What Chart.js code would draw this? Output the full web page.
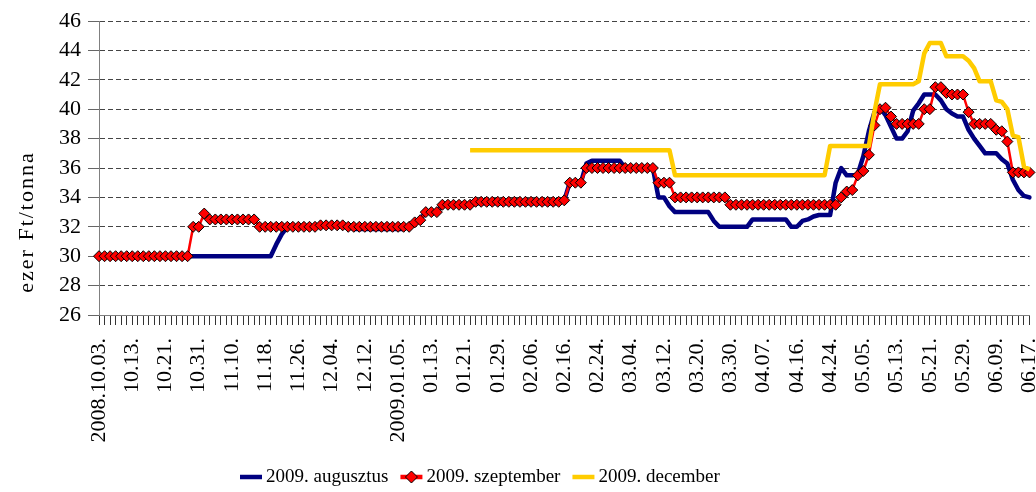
<!DOCTYPE html>
<html>
<head>
<meta charset="utf-8">
<script src="https://cdn.jsdelivr.net/npm/chart.js@4.4.1/dist/chart.umd.min.js"></script>
<style>
html,body{margin:0;padding:0;background:#fff;}
canvas{display:block;}
</style>
</head>
<body>
<canvas id="c" width="1036" height="492"></canvas>
<script>
// Tick labels: one every 6th trading day
const tickLabels = ['2008.10.03.', '10.13.', '10.21.', '10.31.', '11.10.', '11.18.', '11.26.', '12.04.', '12.12.',
  '2009.01.05.', '01.13.', '01.21.', '01.29.', '02.06.', '02.16.', '02.24.', '03.04.', '03.12.', '03.20.',
  '03.30.', '04.07.', '04.16.', '04.24.', '05.05.', '05.13.', '05.21.', '05.29.', '06.09.', '06.17.'];

const seriesNames = ['2009. augusztus', '2009. szeptember', '2009. december'];
const yTitle = 'ezer Ft/tonna';

const augusztus = [
  30,30,30,30,30,30,30,30,30,30,
  30,30,30,30,30,30,30,30,30,30,
  30,30,30,30,30,30,30,30,30,30,
  30,30,30.8,31.5,32,32,32,32,32,32,
  32.1,32.1,32.1,32.1,32.1,32,31.85,31.85,31.85,31.85,
  31.85,31.85,31.85,31.85,31.85,31.85,32,32.3,32.5,33,
  33,33,33.5,33.5,33.5,33.5,33.5,33.5,33.6,33.6,
  33.6,33.6,33.6,33.6,33.6,33.6,33.6,33.6,33.6,33.6,
  33.6,33.6,33.6,33.6,33.8,35,35,35,36.3,36.5,
  36.5,36.5,36.5,36.5,36.5,36,36,36,36,36,
  36,34,34,33.4,33,33,33,33,33,33,
  33,32.4,32,32,32,32,32,32,32.5,32.5,
  32.5,32.5,32.5,32.5,32.5,32,32,32.4,32.5,32.7,
  32.8,32.8,32.8,35,36,35.5,35.5,35.6,36.8,38.5,
  39.8,40.1,39.6,38.8,38,38,38.5,39.9,40.4,41,
  41,41,40.6,40,39.7,39.5,39.5,38.6,38,37.5,
  37,37,37,36.6,36.3,35.2,34.5,34.1,34
];

const szeptember = [
  30,30,30,30,30,30,30,30,30,30,
  30,30,30,30,30,30,30,32,32,32.9,
  32.5,32.5,32.5,32.5,32.5,32.5,32.5,32.5,32.5,32,
  32,32,32,32,32,32,32,32,32,32,
  32.1,32.1,32.1,32.1,32.1,32,32,32,32,32,
  32,32,32,32,32,32,32,32.3,32.45,33,
  33,33,33.5,33.5,33.5,33.5,33.5,33.5,33.7,33.7,
  33.7,33.7,33.7,33.7,33.7,33.7,33.7,33.7,33.7,33.7,
  33.7,33.7,33.7,33.7,33.8,35,35,35,36,36,
  36,36,36,36,36,36,36,36,36,36,
  36,35,35,35,34,34,34,34,34,34,
  34,34,34,34,33.5,33.5,33.5,33.5,33.5,33.5,
  33.5,33.5,33.5,33.5,33.5,33.5,33.5,33.5,33.5,33.5,
  33.5,33.5,33.5,33.5,34,34.4,34.5,35.5,35.8,36.9,
  38.9,40,40.1,39.5,39,39,39,39,39,40,
  40,41.5,41.5,41.1,41,41,41,39.8,39,39,
  39,39,38.6,38.5,37.8,35.7,35.7,35.7,35.7
];

const december = [
  null,null,null,null,null,null,null,null,null,null,
  null,null,null,null,null,null,null,null,null,null,
  null,null,null,null,null,null,null,null,null,null,
  null,null,null,null,null,null,null,null,null,null,
  null,null,null,null,null,null,null,null,null,null,
  null,null,null,null,null,null,null,null,null,null,
  null,null,null,null,null,null,null,37.2,37.2,37.2,
  37.2,37.2,37.2,37.2,37.2,37.2,37.2,37.2,37.2,37.2,
  37.2,37.2,37.2,37.2,37.2,37.2,37.2,37.2,37.2,37.2,
  37.2,37.2,37.2,37.2,37.2,37.2,37.2,37.2,37.2,37.2,
  37.2,37.2,37.2,37.2,35.5,35.5,35.5,35.5,35.5,35.5,
  35.5,35.5,35.5,35.5,35.5,35.5,35.5,35.5,35.5,35.5,
  35.5,35.5,35.5,35.5,35.5,35.5,35.5,35.5,35.5,35.5,
  35.5,35.5,37.5,37.5,37.5,37.5,37.5,37.5,37.5,37.5,
  39.8,41.7,41.7,41.7,41.7,41.7,41.7,41.7,41.9,43.8,
  44.5,44.5,44.5,43.6,43.6,43.6,43.6,43.3,42.8,41.9,
  41.9,41.9,40.6,40.5,40,38.2,38.1,36.1,35.9
];

const colors = { aug: '#000080', sep: '#FF0000', dec: '#FFCC00' };

// category axis: one entry per trading day, labelled every 6th
const categories = augusztus.map((_, i) => (i % 6 === 0 ? tickLabels[i / 6] : ''));

const FONT = 'Liberation Serif';

const extrasPlugin = {
  id: 'extras',
  afterDraw(chart) {
    const ctx = chart.ctx;
    // Y axis title
    ctx.save();
    ctx.translate(33, 222);
    ctx.rotate(-Math.PI / 2);
    ctx.font = '22px "' + FONT + '"';
    try { ctx.letterSpacing = '2px'; } catch (e) {}
    ctx.fillStyle = '#000';
    ctx.textAlign = 'center';
    ctx.textBaseline = 'alphabetic';
    ctx.fillText(yTitle, 0, 0);
    ctx.restore();

    // Legend
    const items = [
      { t: seriesNames[0], c: colors.aug, w: 4.5, d: false },
      { t: seriesNames[1], c: colors.sep, w: 4.5, d: true },
      { t: seriesNames[2], c: colors.dec, w: 4.5, d: false }
    ];
    ctx.save();
    ctx.font = '19px "' + FONT + '"';
    ctx.textBaseline = 'middle';
    ctx.textAlign = 'left';
    let x = 240;
    const y = 477;
    items.forEach(it => {
      ctx.strokeStyle = it.c;
      ctx.lineWidth = it.w;
      ctx.beginPath();
      ctx.moveTo(x, y);
      ctx.lineTo(x + 22, y);
      ctx.stroke();
      if (it.d) {
        const cx = x + 11, r = 6;
        ctx.beginPath();
        ctx.moveTo(cx - r, y); ctx.lineTo(cx, y - r); ctx.lineTo(cx + r, y); ctx.lineTo(cx, y + r);
        ctx.closePath();
        ctx.fillStyle = colors.sep;
        ctx.fill();
        ctx.lineWidth = 1;
        ctx.strokeStyle = '#000';
        ctx.stroke();
      }
      ctx.fillStyle = '#000';
      ctx.fillText(it.t, x + 26, y);
      x += 26 + ctx.measureText(it.t).width + 12;
    });
    ctx.restore();
  }
};

new Chart(document.getElementById('c'), {
  type: 'line',
  data: {
    labels: categories,
    datasets: [
      {
        label: seriesNames[0], data: augusztus, borderColor: colors.aug, backgroundColor: colors.aug,
        borderWidth: 4.5, pointRadius: 0, tension: 0, order: 2, borderJoinStyle: 'round', borderCapStyle: 'round'
      },
      {
        label: seriesNames[1], data: szeptember, borderColor: colors.sep, backgroundColor: colors.sep,
        borderWidth: 2.5, pointStyle: 'rectRot', pointRadius: 5.5, pointBackgroundColor: colors.sep,
        pointBorderColor: '#000', pointBorderWidth: 1, tension: 0, order: 1, borderJoinStyle: 'round'
      },
      {
        label: seriesNames[2], data: december, borderColor: colors.dec, backgroundColor: colors.dec,
        borderWidth: 4.5, pointRadius: 0, tension: 0, order: 0, spanGaps: false, borderJoinStyle: 'round', borderCapStyle: 'butt'
      }
    ]
  },
  options: {
    responsive: false,
    animation: false,
    devicePixelRatio: 1,
    layout: { padding: { left: 0, right: 6, top: 21, bottom: 0 } },
    plugins: { legend: { display: false }, tooltip: { enabled: false }, title: { display: false } },
    scales: {
      x: {
        type: 'category',
        offset: false,
        grid: { display: true, drawOnChartArea: false, drawTicks: true, tickLength: 10, tickColor: '#333', tickWidth: 1, offset: false },
        border: { display: true, color: '#808080', width: 1 },
        ticks: {
          autoSkip: false, maxRotation: 90, minRotation: 90, padding: 13, color: '#000',
          font: { family: FONT, size: 22 },
          callback: (v, i) => categories[i]
        },
        afterFit: (s) => { s.height = 177; s.paddingLeft = 0; s.paddingRight = 0; }
      },
      y: {
        min: 26, max: 46,
        ticks: { stepSize: 2, padding: 7, color: '#000', font: { family: FONT, size: 22 } },
        grid: { color: '#444', lineWidth: 1, drawTicks: true, tickLength: 11, tickColor: '#666', tickWidth: 1, tickBorderDash: [] },
        border: { display: true, color: '#808080', width: 1, dash: [5, 3] },
        afterFit: (s) => { s.width = 99; s.paddingTop = 0; s.paddingBottom = 0; }
      }
    }
  },
  plugins: [extrasPlugin]
});
</script>
</body>
</html>
